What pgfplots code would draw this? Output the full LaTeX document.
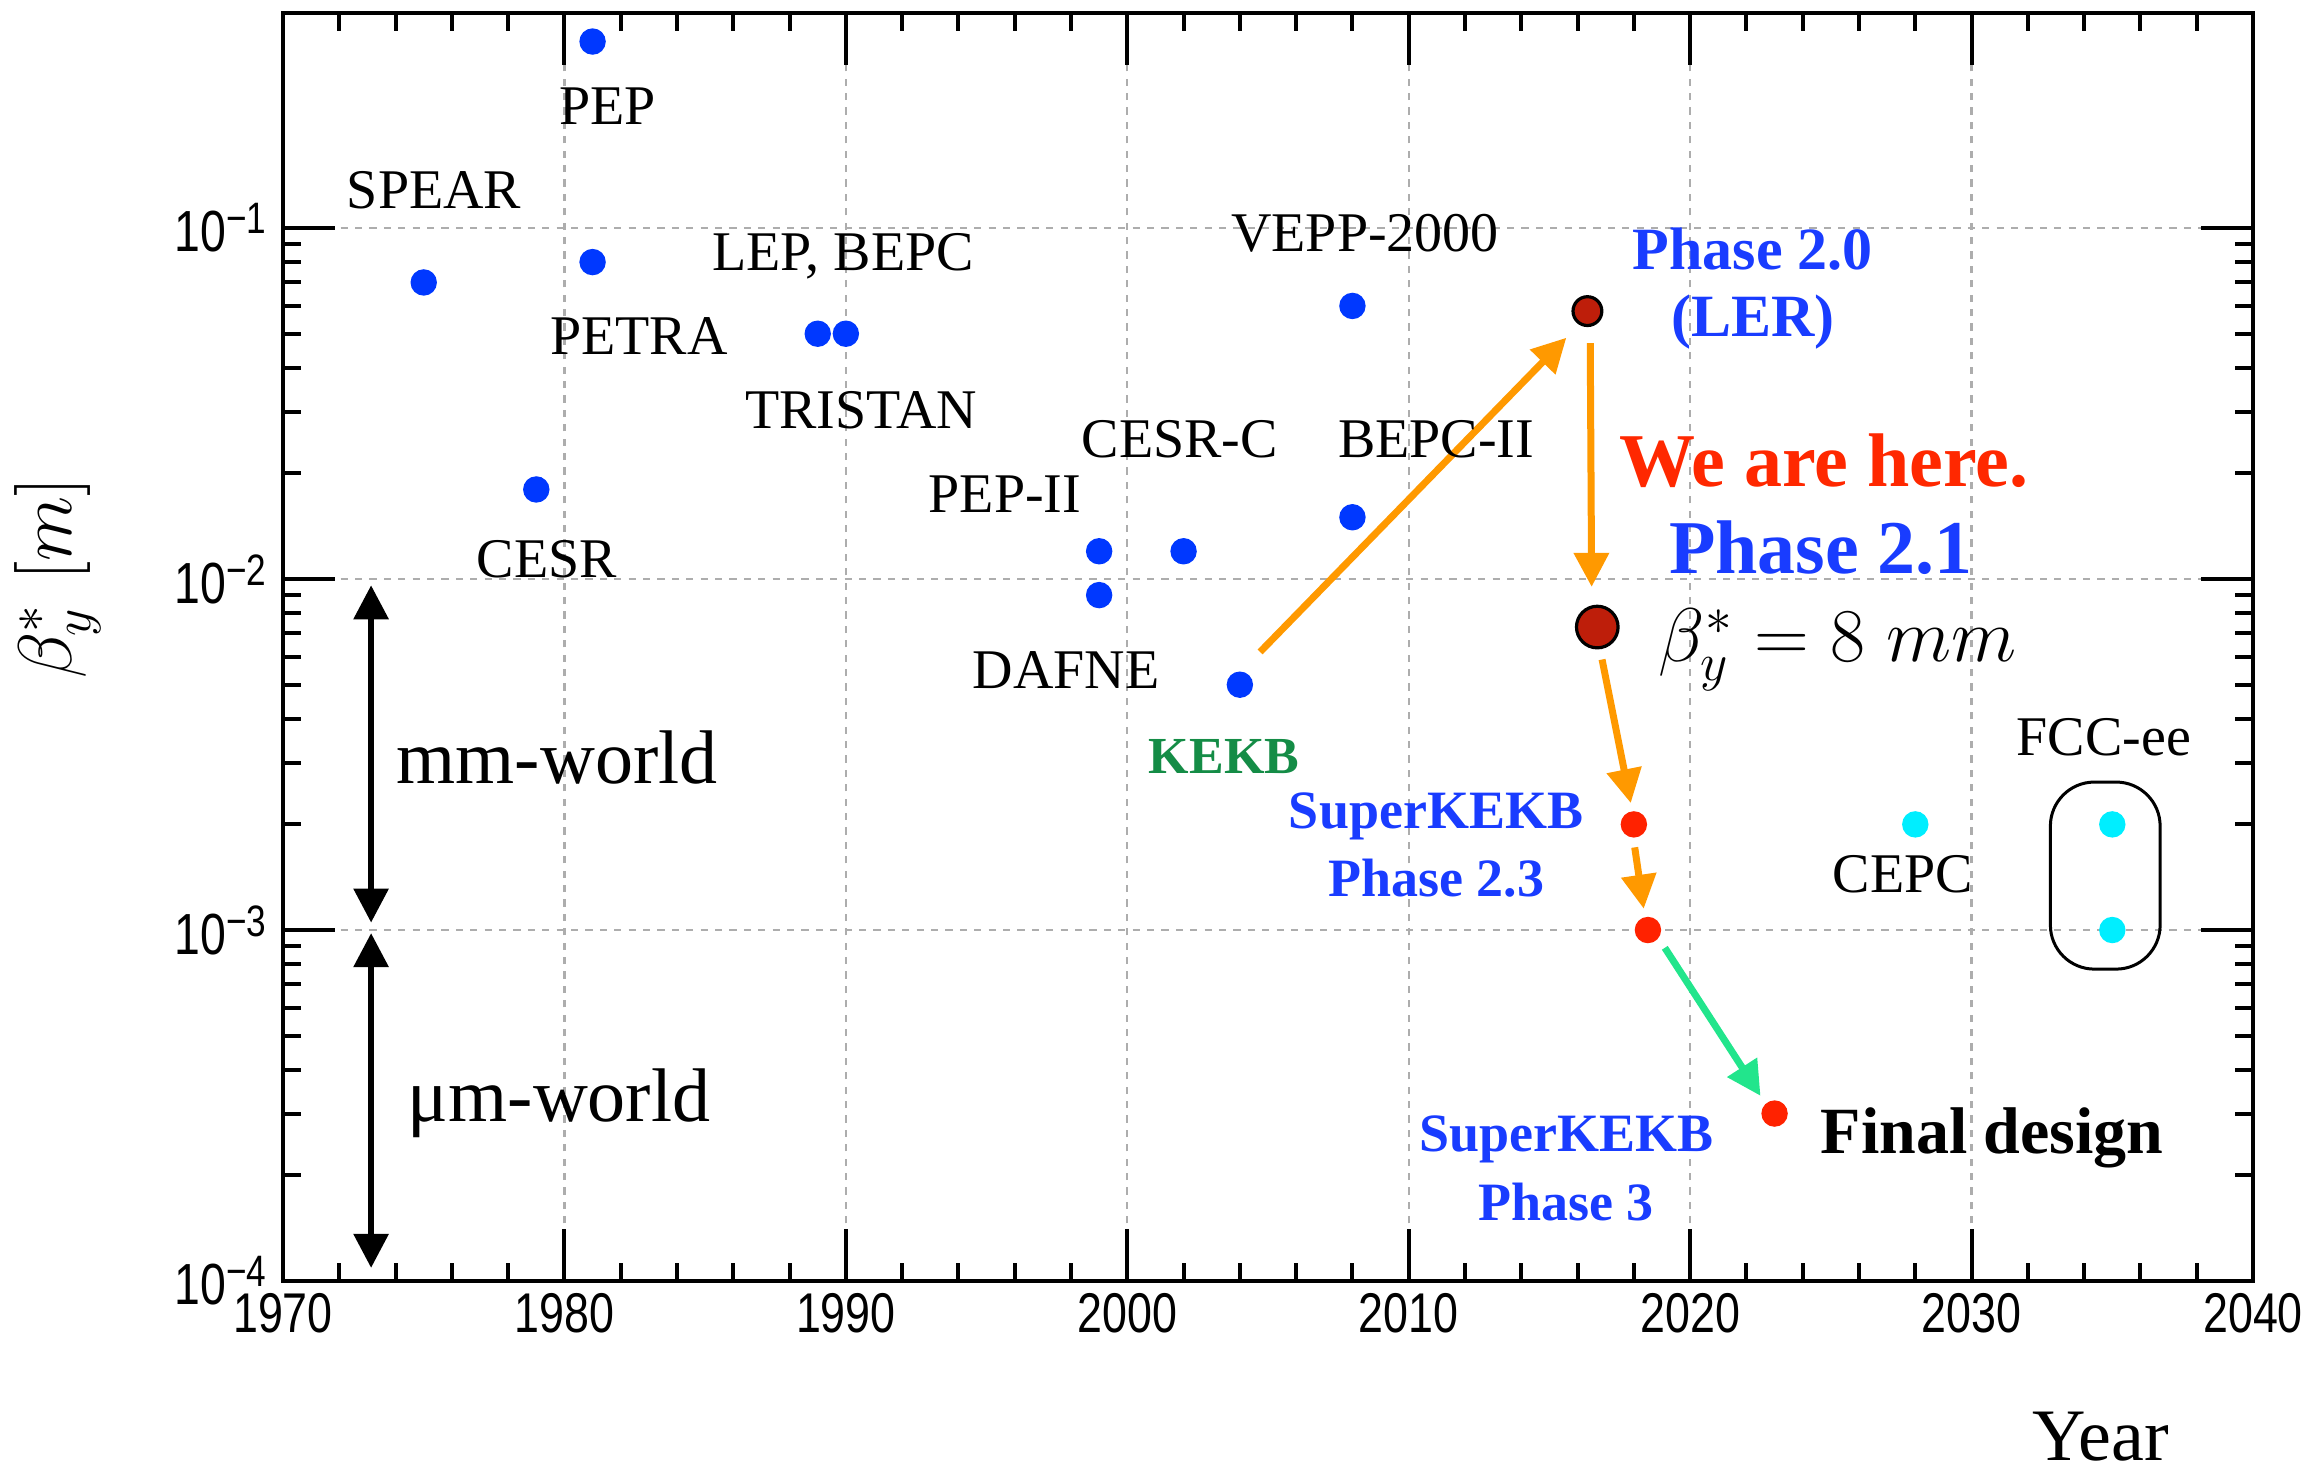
\RequirePackage{fix-cm}
\documentclass[border=0pt]{standalone}
\usepackage{fontspec}
\usepackage{pgfplots}
\pgfplotsset{compat=1.18}
\usetikzlibrary{arrows.meta}
\newfontfamily\tms{Liberation Serif}
\newfontfamily\tickfam[FakeStretch=0.8]{Liberation Sans}
\newcommand\fs[2]{\fontsize{#1}{#2}\selectfont}
\newcommand\tl[1]{{\tickfam\fs{14.5}{14.5}10\raisebox{4.5pt}{\fs{11}{11}−#1}}}
\definecolor{ptblue}{RGB}{0,56,255}
\definecolor{ptcyan}{RGB}{0,238,255}
\definecolor{ptred}{RGB}{255,34,0}
\definecolor{ptdred}{RGB}{190,30,10}
\definecolor{lblue}{RGB}{25,60,255}
\definecolor{lred}{RGB}{255,40,0}
\definecolor{lgreen}{RGB}{20,140,70}
\definecolor{aorange}{RGB}{255,153,0}
\definecolor{agreen}{RGB}{34,229,140}
\begin{document}
\begin{tikzpicture}
\useasboundingbox (0,0) rectangle (581pt,367pt);
\begin{axis}[
  at={(70.75pt,46.75pt)}, anchor=south west,
  scale only axis, width=492.5pt, height=317pt,
  xmin=1970, xmax=2040, ymode=log, ymin=1e-4, ymax=0.41,
  xtick={1970,1980,1990,2000,2010,2020,2030,2040},
  xticklabels={1970,1980,1990,2000,2010,2020,2030,2040},
  minor x tick num=4,
  ytick={1e-4,1e-3,1e-2,1e-1},
  yticklabels={{\tl{4}},{\tl{3}},{\tl{2}},{\tl{1}}},
  grid=major,
  major grid style={black!32, line width=0.6pt, dash pattern=on 1.8pt off 1.8pt},
  axis line style={line width=1.2pt},
  major tick length=13pt, minor tick length=4.5pt,
  tick style={black, line width=1pt},
  xticklabel style={font=\tickfam\fs{14}{14}, inner sep=0pt, yshift=-3pt},
  yticklabel style={inner sep=0pt, xshift=-4pt},
  clip=false,
]
% arrows
\addplot[aorange, line width=1.75pt, -{Triangle[width=8.5pt,length=8.5pt]}] coordinates {(2004.72,0.0062) (2015.6,0.0487)};
\addplot[aorange, line width=1.75pt, -{Triangle[width=8.5pt,length=8.5pt]}] coordinates {(2016.45,0.047) (2016.5,0.0095)};
\addplot[aorange, line width=1.75pt, -{Triangle[width=8.5pt,length=8.5pt]}] coordinates {(2016.87,0.0059) (2017.89,0.0023)};
\addplot[aorange, line width=1.75pt, -{Triangle[width=8.5pt,length=8.5pt]}] coordinates {(2018.03,0.00172) (2018.35,0.00115)};
\addplot[agreen, line width=1.75pt, -{Triangle[width=8.5pt,length=8.5pt]}] coordinates {(2019.1,0.00089) (2022.5,0.000337)};
\addplot[black, line width=1.5pt, {Triangle[width=8.5pt,length=8.5pt]}-{Triangle[width=8.5pt,length=8.5pt]}] coordinates {(1973.13,0.0096) (1973.13,0.00105)};
\addplot[black, line width=1.5pt, {Triangle[width=8.5pt,length=8.5pt]}-{Triangle[width=8.5pt,length=8.5pt]}] coordinates {(1973.13,0.00098) (1973.13,0.000109)};
% points
\addplot[only marks, mark=*, mark size=3.1pt, mark options={draw=ptblue, fill=ptblue}] coordinates {
(1975,0.07) (1981,0.34) (1981,0.08) (1979,0.018) (1989,0.05) (1990,0.05)
(1999,0.012) (1999,0.009) (2002,0.012) (2008,0.06) (2008,0.015) (2004,0.005)};
\addplot[only marks, mark=*, mark size=3.6pt, mark options={draw=black, fill=ptdred, line width=0.8pt}] coordinates {(2016.35,0.058)};
\addplot[only marks, mark=*, mark size=5.2pt, mark options={draw=black, fill=ptdred, line width=0.8pt}] coordinates {(2016.7,0.0073)};
\addplot[only marks, mark=*, mark size=3.1pt, mark options={draw=ptred, fill=ptred}] coordinates {(2018,0.002) (2018.5,0.001) (2023,0.0003)};
\addplot[only marks, mark=*, mark size=3.1pt, mark options={draw=ptcyan, fill=ptcyan}] coordinates {(2028,0.002) (2035,0.002) (2035,0.001)};
\draw[rounded corners=11pt, line width=0.75pt] (axis cs:2032.8,0.00264) rectangle (axis cs:2036.7,0.000774);
% labels
\begin{scope}[every node/.style={inner sep=0pt, font=\tms\fs{14}{14}}]
\node at (axis cs:1981.54,0.222) {PEP};
\node at (axis cs:1975.37,0.128) {SPEAR};
\node at (axis cs:1982.65,0.0492) {PETRA};
\node at (axis cs:1979.38,0.0114) {CESR};
\node at (axis cs:1989.9,0.0832) {LEP, BEPC};
\node at (axis cs:1990.54,0.0303) {TRISTAN};
\node at (axis cs:2001.87,0.0251) {CESR-C};
\node at (axis cs:2010.97,0.0251) {BEPC-II};
\node at (axis cs:1995.65,0.01746) {PEP-II};
\node at (axis cs:1997.82,0.00551) {DAFNE};
\node at (axis cs:2008.45,0.0968) {VEPP-2000};
\node at (axis cs:2027.56,0.001445) {CEPC};
\node at (axis cs:2034.7,0.00355) {FCC-ee};
\node[font=\tms\bfseries\fs{13}{13}, text=lgreen] at (axis cs:2003.44,0.00313) {KEKB};
\node[font=\tms\bfseries\fs{15}{16.75}, text=lblue, align=center] at (axis cs:2022.23,0.0673) {Phase 2.0\\(LER)};
\node[font=\tms\bfseries\fs{19}{19}, text=lred] at (axis cs:2024.76,0.0217) {We are here.};
\node[font=\tms\bfseries\fs{19}{19}, text=lblue] at (axis cs:2024.65,0.01225) {Phase 2.1};
\node[font=\fs{19}{19}] at (axis cs:2025.25,0.00628) {$\beta_y^* = 8\;mm$};
\node[font=\tms\bfseries\fs{13.5}{17}, text=lblue, align=center] at (axis cs:2010.97,0.001746) {SuperKEKB\\Phase 2.3};
\node[font=\tms\bfseries\fs{13.5}{17.25}, text=lblue, align=center] at (axis cs:2015.59,0.000209) {SuperKEKB\\Phase 3};
\node[font=\tms\bfseries\fs{16.5}{16.5}] at (axis cs:2030.73,0.000255) {Final design};
\node[font=\tms\fs{19}{19}] at (axis cs:1979.74,0.00311) {mm-world};
\node[font=\tms\fs{19}{19}] at (axis cs:1979.81,0.000321) {μm-world};
\end{scope}
\end{axis}
\node[rotate=90, inner sep=0pt] at (14.5pt,222.5pt) {\fs{19}{19}$\beta^*_y\ [m]$};
\node[inner sep=0pt] at (525.25pt,7.75pt) {\tms\fs{18.5}{18.5}Year};
\end{tikzpicture}
\end{document}
